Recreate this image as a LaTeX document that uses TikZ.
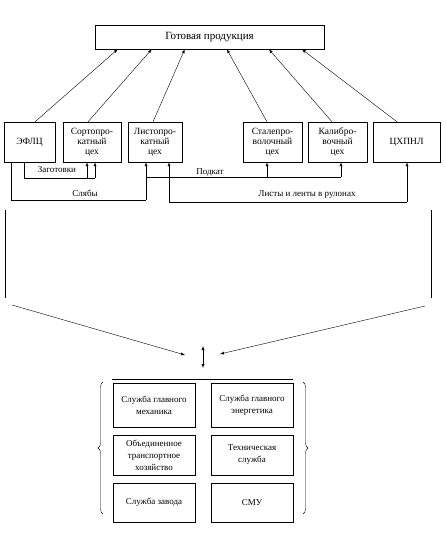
\documentclass[tikz,border=0pt]{standalone}
\usepackage{fontspec}
\setmainfont{Liberation Serif}
\usetikzlibrary{calc,positioning,arrows,decorations.pathreplacing}

\begin{document}
\begin{tikzpicture}[x=1pt,y=-1pt,
shop/.style = {rectangle, draw, thin, minimum width=#1, minimum height=40,
	align=center, inner sep=1pt, font=\fontsize{9.5}{10}\selectfont},
shop/.default = 56,
service/.style = {rectangle, draw, thin, minimum width=82, align=center,
	inner sep=1pt, font=\fontsize{9}{12}\selectfont},
lbl/.style = {inner sep=1pt, font=\fontsize{9}{10}\selectfont},
line/.style ={draw, thin, -latex}]

\useasboundingbox (0,0) rectangle (445,537);

\node [draw, thin, minimum width=229, minimum height=24,
	font=\fontsize{11}{12}\selectfont] (prod) at (209.5,37) {Готовая продукция};

\node [shop=51] (efl) at (29.5,142) {ЭФЛЦ};
\node [shop=58] (sort) at (92,142) {Сортопро-\\катный\\цех};
\node [shop=54] (list) at (155,142) {Листопро-\\катный\\цех};
\node [shop=59] (stal) at (272.5,142) {Сталепро-\\волочный\\цех};
\node [shop=59] (kalib) at (337.5,142) {Калибро-\\вочный\\цех};
\node [shop=67] (chp) at (406.5,142) {ЦХПНЛ};

\begin{scope}[every path/.style=line]
\path ([xshift=5.5]efl.north) -- ($(prod.south west)+(23,0)$);
\path ([xshift=-4]sort.north) -- ($(prod.south west)+(57,0)$);
\path ([xshift=-2]list.north) -- ($(prod.south west)+(90,0)$);
\path ([xshift=-5.5]stal.north) -- ($(prod.south west)+(132,0)$);
\path ([xshift=-5.5]kalib.north) -- ($(prod.south west)+(174,0)$);
\path ([xshift=-9.5]chp.north) -- ($(prod.south west)+(207,0)$);
\end{scope}

% заготовки
\coordinate (zag) at (95,178);
\coordinate (zag2) at (87,178);
\draw [thin] ([xshift=-5.5]efl.south) |- (zag);
\draw [line] (zag) -- (zag |- sort.south);
\draw [line] (zag2) -- (zag2 |- sort.south);
\node [lbl] (zagl) at (57,170) {Заготовки};

% слябы
\coordinate (slb) at (146,200);
\draw [thin] ([xshift=-18.5]efl.south) |- (slb);
\draw [line] (slb) -- (slb |- list.south);
\node [lbl] (slbl) at (85,193) {Слябы};

% подкат
\coordinate (pod) at (341,177);
\coordinate (pod2) at (267,177);
\draw [thin] (slb |- pod) -- (pod);
\draw [line] (pod) -- (pod |- kalib.south);
\draw [line] (pod2) -- (pod2 |- stal.south);
\node [lbl] (podl) at (210,172) {Подкат};

% листы
\coordinate (lst1) at (169,202);
\coordinate (lst2) at (407,202);
\draw [thin] (lst1) -- (lst2);
\draw [line] (lst1) -- (lst1 |- list.south);
\draw [line] (lst2) -- (lst2 |- chp.south);
\node [lbl] (lstl) at (307,195) {Листы и ленты в рулонах};

\draw [thin] (5,210) -- (5,298);
\draw [thin] (431,210) -- (431,298);

\coordinate (fl) at (12,305);
\coordinate (fr) at (425,306);
\coordinate (hubl) at (185,355);
\coordinate (hubr) at (220,354);
\coordinate (hubt) at (203,346);
\coordinate (hubb) at (203,368);
\draw [line] (fl) -- (hubl);
\draw [line] (fr) -- (hubr);
\draw [thin, latex-latex] (hubt) -- (hubb);
\draw [thin] (112,379) -- (293,379);

\node [service, minimum height=44] (mech) at (154,405) {Служба главного\\механика};
\node [service, minimum height=44] (energ) at (252,405) {Служба главного\\энергетика};
\node [service, minimum height=40] (trans) at (154,455) {Объединенное\\транспортное\\хозяйство};
\node [service, minimum height=40] (tech) at (252,455) {Техническая\\служба};
\node [service, minimum height=39] (zavod) at (154,502.5) {Служба завода};
\node [service, minimum height=39] (smu) at (252,502.5) {СМУ};

\draw [thin, decorate, decoration={brace, amplitude=5}] (103,514) -- (103,382);
\draw [thin, decorate, decoration={brace, amplitude=5}] (303,382) -- (303,514);

\end{tikzpicture}
\end{document}
